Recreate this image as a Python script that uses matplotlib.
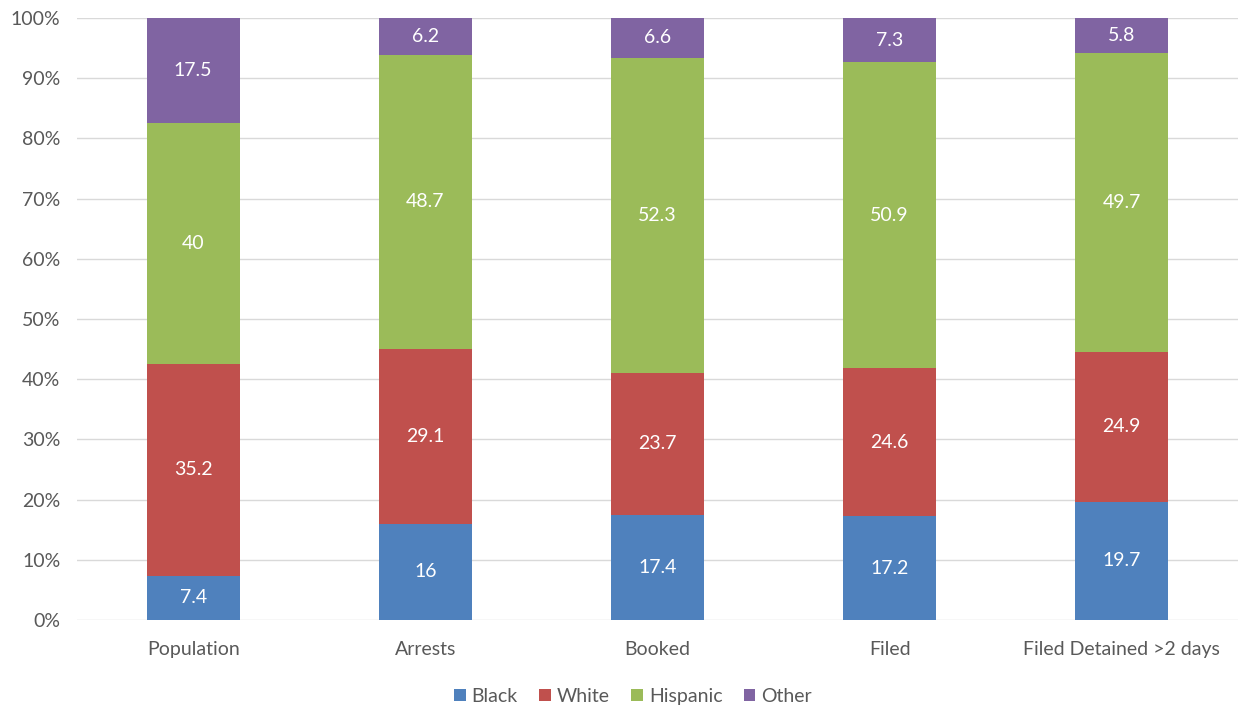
import numpy as np
import matplotlib.pyplot as plt
from matplotlib.ticker import PercentFormatter

plt.rcParams['font.family'] = ['Lato', 'DejaVu Sans']

stages = ["Population", "Arrests", "Booked", "Filed", "Filed Detained >2 days"]
groups = ["Black", "White", "Hispanic", "Other"]
black = [7.4, 16, 17.4, 17.2, 19.7]
white = [35.2, 29.1, 23.7, 24.6, 24.9]
hispanic = [40, 48.7, 52.3, 50.9, 49.7]
other = [17.5, 6.2, 6.6, 7.3, 5.8]
colors = ["#4F81BD", "#C0504D", "#9BBB59", "#8064A2"]

series = np.array([black, white, hispanic, other], dtype=float)
shares = series / series.sum(axis=0) * 100

fig = plt.figure(figsize=(12.44, 7.09), dpi=100)
ax = fig.add_axes([0.062, 0.1255, 0.933, 0.849])

x = np.arange(len(stages))
bottom = np.zeros(len(stages))
for name, raw, share, col in zip(groups, series, shares, colors):
    bars = ax.bar(x, share, 0.4, bottom=bottom, color=col, label=name, zorder=3)
    labels = [f"{v:g}" for v in raw]
    ax.bar_label(bars, labels=labels, label_type="center", color="white", fontsize=14)
    bottom += share

ax.set_xlim(-0.5, len(stages) - 0.5)
ax.set_ylim(0, 100)
ax.set_yticks(np.arange(0, 101, 10))
ax.yaxis.set_major_formatter(PercentFormatter(decimals=0))
ax.set_xticks(x, stages)
ax.grid(axis="y", color="#D9D9D9", linewidth=1, zorder=0)
for s in ax.spines.values():
    s.set_visible(False)
ax.tick_params(length=0, labelsize=14, colors="#595959")
ax.tick_params(axis="y", pad=12)
ax.tick_params(axis="x", pad=15)

ax.legend(loc="lower center", bbox_to_anchor=(0.479, -0.17), ncol=4, frameon=False,
          fontsize=14, labelcolor="#595959", handlelength=0.6, handleheight=0.6,
          handletextpad=0.3, columnspacing=1.1)

fig.savefig("out.png", dpi=100)
